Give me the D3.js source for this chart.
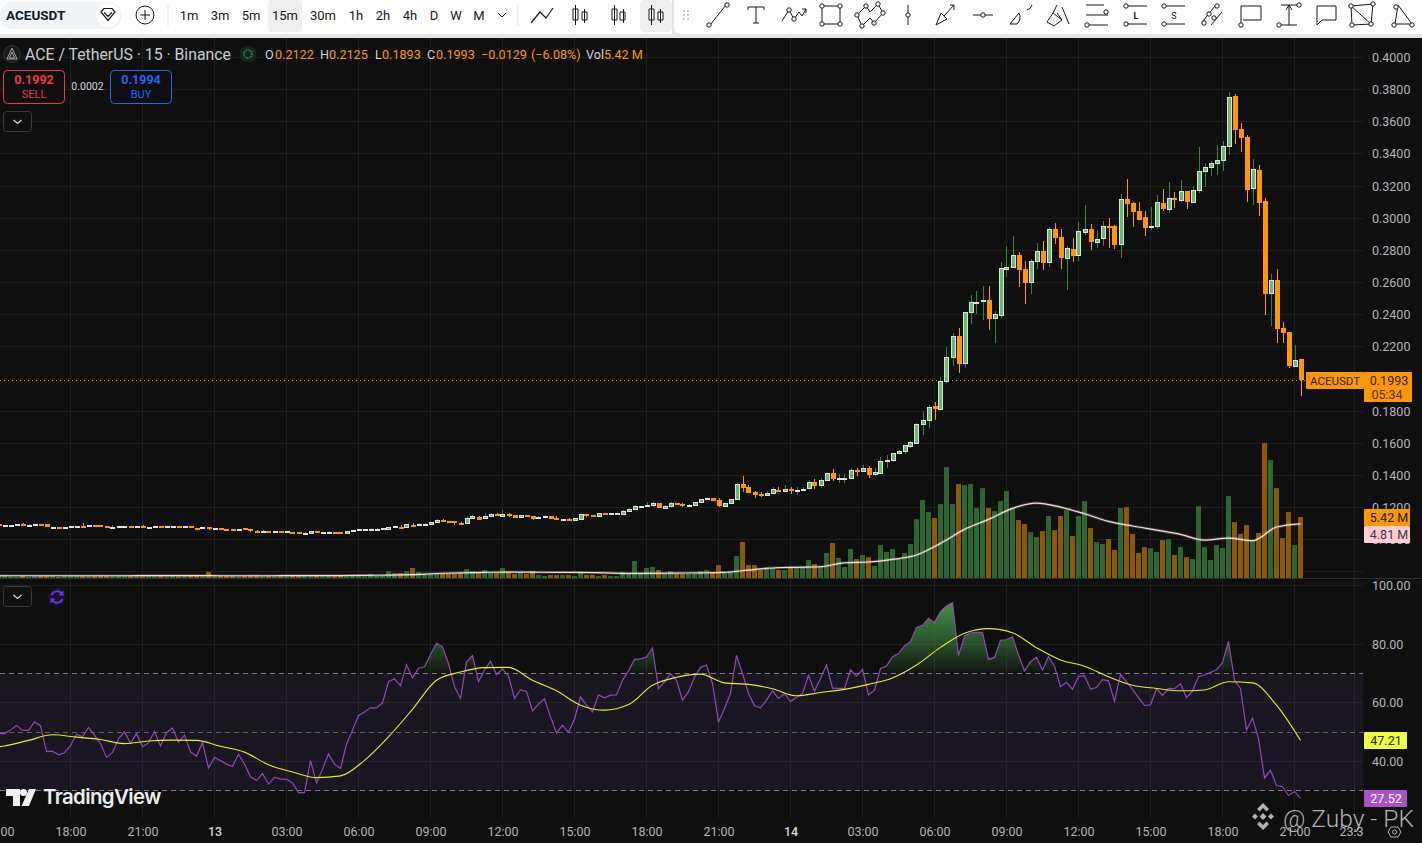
<!DOCTYPE html>
<html>
<head>
<meta charset="utf-8">
<title>ACEUSDT 15m</title>
<script src="https://cdn.jsdelivr.net/npm/d3@7/dist/d3.min.js"></script>
<style>
html, body { margin: 0; padding: 0; background: #0f0f0f; overflow: hidden; }
svg { display: block; font-family: Roboto, sans-serif; }
</style>
</head>
<body>
<div id="chart"></div>
<script>
// 15 minute candles, first one is 12th 15:00
var opens = [
    .1095,.1089,.1089,.1095,.1098,.1091,.1095,.1096,.1095,.1077,
    .1078,.1077,.1083,.1083,.1084,.1089,.1090,.1090,.1083,.1077,
    .1083,.1083,.1084,.1083,.1084,.1077,.1083,.1083,.1083,.1083,
    .1083,.1083,.1083,.1071,.1077,.1077,.1071,.1070,.1065,.1065,
    .1064,.1071,.1064,.1052,.1051,.1052,.1051,.1052,.1051,.1046,
    .1046,.1040,.1040,.1052,.1046,.1046,.1050,.1046,.1040,.1058,
    .1064,.1064,.1064,.1064,.1071,.1062,.1083,.1078,.1077,.1090,
    .1095,.1095,.1095,.1108,.1122,.1118,.1114,.1103,.1100,.1133,
    .1141,.1133,.1145,.1162,
    .1149,.1160,.1151,.1137,.1151,.1147,.1137,.1143,.1147,.1135,
    .1124,.1129,.1124,.1129,.1158,.1151,.1143,.1164,.1162,.1162,
    .1162,.1174,.1187,.1205,.1212,.1211,.1226,.1197,.1205,.1226,
    .1220,.1205,.1211,.1230,.1255,.1257,.1244,.1205,.1224,.1249,
    .1344,.1325,.1294,.1282,.1273,.1288,.1309,.1298,.1313,.1298,
    .1311,.1317,.1358,.1335,.1367,.1412,.1380,.1381,.1379,.1435,
    .1423,.1443,.1404,.1416,.1488,.1495,.1537,.1547,.1584,.1603,
    .1721,.1740,.1831,.1815,.1983,.2132,.2267,.2095,.2412,.2479,
    .2487,.2491,.2375,.2394,.2686,.2692,.2771,.2684,.2599,.2730,
    .2796,.2723,.2933,.2883,.2748,.2808,.2767,.2910,.2933,.2848,
    .2873,.2951,.2952,.2835,.3120,.3095,.3045,.3005,.2949,.2947,
    .3095,.3053,.3126,.3113,.3169,.3101,.3171,.3290,.3315,.3339,
    .3358,.3445,.3760,.3555,.3505,.3184,.3300,.3107,.2531,.2616,
    .2317,.2292,.2083,.2122
];
var highs = [
    .1096,.1090,.1092,.1097,.1100,.1094,.1097,.1096,.1095,.1080,
    .1078,.1080,.1086,.1084,.1102,.1091,.1090,.1091,.1083,.1088,
    .1086,.1085,.1084,.1087,.1088,.1079,.1085,.1087,.1085,.1087,
    .1087,.1085,.1083,.1071,.1079,.1077,.1073,.1070,.1065,.1065,
    .1068,.1071,.1064,.1058,.1057,.1052,.1053,.1052,.1053,.1046,
    .1046,.1046,.1053,.1052,.1048,.1052,.1050,.1046,.1053,.1060,
    .1066,.1066,.1069,.1069,.1073,.1078,.1085,.1088,.1096,.1104,
    .1100,.1100,.1112,.1126,.1126,.1118,.1114,.1110,.1145,.1150,
    .1148,.1168,.1166,.1166,
    .1184,.1168,.1155,.1152,.1152,.1147,.1148,.1152,.1148,.1147,
    .1130,.1134,.1136,.1159,.1159,.1152,.1165,.1165,.1165,.1167,
    .1184,.1194,.1212,.1211,.1234,.1233,.1227,.1212,.1234,.1227,
    .1226,.1219,.1236,.1252,.1258,.1258,.1258,.1227,.1252,.1354,
    .1396,.1340,.1302,.1294,.1300,.1325,.1325,.1338,.1325,.1325,
    .1325,.1371,.1375,.1381,.1414,.1439,.1408,.1408,.1443,.1443,
    .1464,.1458,.1443,.1516,.1526,.1540,.1555,.1590,.1615,.1725,
    .1800,.1838,.1854,.2012,.2197,.2284,.2315,.2419,.2522,.2547,
    .2578,.2578,.2421,.2726,.2827,.2889,.2790,.2734,.2746,.2846,
    .2858,.2945,.2970,.2933,.2827,.2877,.2976,.3082,.2964,.2927,
    .2983,.3001,.2958,.3151,.3244,.3101,.3101,.3045,.3070,.3144,
    .3182,.3225,.3163,.3238,.3171,.3200,.3443,.3344,.3356,.3456,
    .3480,.3785,.3773,.3592,.3518,.3368,.3331,.3126,.2653,.2684,
    .2354,.2292,.2211,.2125
];
var lows = [
    .1094,.1089,.1088,.1095,.1096,.1091,.1095,.1095,.1075,.1077,
    .1077,.1077,.1083,.1083,.1083,.1089,.1089,.1081,.1075,.1077,
    .1083,.1083,.1083,.1083,.1078,.1077,.1083,.1075,.1083,.1083,
    .1075,.1079,.1069,.1070,.1077,.1062,.1066,.1064,.1064,.1064,
    .1064,.1070,.1050,.1051,.1051,.1051,.1051,.1051,.1051,.1045,
    .1045,.1040,.1040,.1038,.1046,.1046,.1043,.1045,.1040,.1058,
    .1058,.1064,.1064,.1064,.1071,.1062,.1077,.1077,.1077,.1089,
    .1095,.1095,.1095,.1108,.1120,.1112,.1092,.1101,.1100,.1133,
    .1125,.1133,.1145,.1151,
    .1148,.1143,.1135,.1137,.1138,.1124,.1137,.1143,.1129,.1124,
    .1124,.1124,.1124,.1129,.1141,.1141,.1143,.1162,.1162,.1162,
    .1162,.1174,.1187,.1199,.1206,.1204,.1197,.1197,.1205,.1212,
    .1205,.1205,.1211,.1230,.1243,.1240,.1205,.1205,.1224,.1248,
    .1298,.1290,.1261,.1267,.1273,.1288,.1298,.1298,.1284,.1280,
    .1307,.1317,.1317,.1323,.1367,.1367,.1354,.1354,.1379,.1398,
    .1421,.1385,.1398,.1414,.1446,.1485,.1530,.1535,.1570,.1600,
    .1650,.1696,.1744,.1812,.1977,.2083,.2039,.2070,.2344,.2406,
    .2369,.2307,.2226,.2381,.2636,.2692,.2574,.2468,.2531,.2686,
    .2680,.2699,.2842,.2686,.2555,.2730,.2736,.2893,.2804,.2817,
    .2829,.2815,.2811,.2755,.3010,.2947,.2989,.2891,.2929,.2933,
    .3047,.3035,.3064,.3101,.3057,.3095,.3157,.3194,.3263,.3269,
    .3294,.3393,.3462,.3412,.3101,.3082,.3014,.2398,.2329,.2224,
    .2224,.2068,.2081,.1893
];
var closes = [
    .1094,.1090,.1090,.1096,.1096,.1092,.1096,.1095,.1075,.1078,
    .1077,.1078,.1084,.1084,.1083,.1090,.1089,.1085,.1075,.1078,
    .1084,.1084,.1083,.1084,.1083,.1078,.1084,.1075,.1084,.1084,
    .1075,.1084,.1069,.1070,.1078,.1062,.1072,.1069,.1064,.1064,
    .1065,.1070,.1050,.1051,.1052,.1051,.1052,.1051,.1052,.1045,
    .1045,.1041,.1052,.1038,.1047,.1047,.1049,.1045,.1052,.1059,
    .1065,.1065,.1065,.1065,.1072,.1077,.1084,.1077,.1095,.1089,
    .1096,.1096,.1108,.1120,.1120,.1116,.1113,.1101,.1133,.1145,
    .1125,.1145,.1158,.1151,
    .1160,.1153,.1135,.1151,.1147,.1129,.1143,.1147,.1129,.1124,
    .1129,.1124,.1135,.1158,.1147,.1147,.1164,.1162,.1164,.1164,
    .1178,.1189,.1207,.1207,.1214,.1226,.1197,.1207,.1226,.1224,
    .1205,.1213,.1232,.1251,.1257,.1240,.1205,.1226,.1251,.1344,
    .1321,.1290,.1273,.1278,.1288,.1313,.1298,.1313,.1298,.1307,
    .1313,.1356,.1333,.1369,.1412,.1377,.1381,.1383,.1431,.1420,
    .1443,.1402,.1418,.1489,.1495,.1537,.1551,.1587,.1609,.1719,
    .1744,.1823,.1815,.1987,.2134,.2265,.2095,.2414,.2477,.2481,
    .2489,.2375,.2402,.2688,.2699,.2769,.2678,.2597,.2732,.2794,
    .2721,.2931,.2877,.2752,.2813,.2765,.2918,.2931,.2852,.2869,
    .2950,.2949,.2833,.3117,.3088,.3039,.2989,.2939,.2951,.3099,
    .3057,.3124,.3115,.3167,.3101,.3174,.3292,.3317,.3342,.3360,
    .3447,.3752,.3549,.3499,.3176,.3304,.3095,.2528,.2613,.2311,
    .2286,.2081,.2118,.1993
];
// volume in millions
var volumes = [
    .27,.27,.12,.09,.18,.09,.18,.18,.18,.18,
    .09,.18,.18,.18,.18,.18,.18,.24,.18,.15,
    .18,.15,.18,.18,.15,.18,.15,.18,.15,.18,
    .15,.18,.18,.18,.15,.53,.15,.18,.18,.18,
    .15,.18,.27,.27,.18,.18,.15,.18,.15,.18,
    .24,.18,.15,.18,.15,.18,.15,.18,.15,.18,
    .18,.15,.36,.18,.18,.62,.44,.44,.62,.89,
    .53,.36,.36,.44,.44,.36,.36,.44,.80,.62,
    .44,.71,.44,.44,
    .89,.56,.36,.53,.36,.62,.27,.18,.27,.27,
    .27,.27,.18,.50,.27,.27,.18,.27,.18,.18,
    .53,.36,1.51,.36,.89,.98,.71,.41,.62,.36,
    .36,.36,.36,.62,.71,.53,1.15,.44,.62,1.95,
    3.20,1.15,1.15,.71,.98,.89,.71,.71,.98,.98,
    .98,1.60,1.24,1.07,2.22,3.11,1.78,.98,2.58,1.69,
    2.04,1.86,1.07,2.93,2.31,2.58,1.69,2.22,3.02,5.24,
    6.93,5.86,5.33,6.57,9.86,6.57,8.35,8.26,8.35,6.22,
    7.99,6.22,5.95,6.84,7.73,6.22,5.15,4.80,4.08,3.64,
    4.17,5.51,4.26,5.51,6.04,3.73,5.51,6.84,4.44,3.20,
    3.02,3.46,2.49,6.22,6.30,3.91,2.22,2.75,2.66,2.31,
    3.37,3.46,2.04,2.75,1.86,1.69,6.39,2.75,1.60,2.93,
    2.66,7.28,4.97,3.91,4.71,3.29,4.00,11.99,10.48,7.99,
    3.55,5.86,2.93,5.42
];
// volume average, read once an hour, the first reading lies just left of the pane
var volumeMa = [
    .20,.20,.20,.20,.20,.20,.20,.22,.22,.22,.20,.20,.20,.22,.22,.22,.24,
    .25,.30,.40,.46,.50,.53,.52,.50,.50,.46,.41,.42,.44,.46,.50,.70,
    .89,.95,1.00,1.35,1.42,1.66,2.04,3.08,4.32,5.21,6.19,6.66,6.30,
    5.71,5.03,4.62,4.26,3.88,3.37,3.55,3.32,4.53,4.81
];
var rsi = [
    49.5,49.5,50.7,52.3,50.6,50.6,53.5,52.2,43.4,43.5,
    42.3,43.0,45.4,49.3,48.4,51.6,49.0,46.1,41.4,43.1,
    47.7,50.1,46.2,49.5,45.0,46.4,50.2,45.3,49.8,51.4,
    46.5,49.0,43.3,41.8,46.4,37.8,41.4,40.3,39.1,38.3,
    42.5,39.1,34.8,33.5,35.9,32.3,34.6,34.0,34.0,32.7,
    29.4,29.4,40.3,32.8,37.4,42.6,39.1,37.6,45.9,50.7,
    55.6,56.9,58.3,58.3,60.0,67.2,68.2,65.8,73.0,68.5,
    71.8,72.3,76.5,80.3,79.1,73.4,65.5,61.5,73.9,76.1,
    67.2,71.2,74.2,69.7,71.6,69.1,61.5,64.4,63.9,57.2,
    59.6,61.4,55.2,49.7,52.4,49.9,54.4,62.0,59.2,56.9,
    62.7,61.7,62.6,62.7,67.7,70.9,74.8,75.0,75.6,78.7,
    64.8,67.1,70.0,67.7,60.9,63.8,68.7,72.1,72.9,66.6,
    53.5,58.1,63.2,76.2,70.0,63.2,59.0,58.3,60.9,64.1,
    61.5,63.1,60.5,61.8,63.2,69.4,64.0,68.3,72.9,65.0,
    64.9,64.9,71.2,69.1,71.4,62.7,64.3,71.7,72.5,75.7,
    76.8,79.4,80.8,85.7,86.4,88.8,87.3,91.1,93.0,94.1,
    76.1,82.8,83.8,84.0,84.0,74.8,75.4,81.3,81.5,82.5,
    76.3,70.9,74.0,75.5,71.2,75.8,72.5,65.5,67.0,64.6,
    69.0,69.2,64.7,65.2,67.9,67.5,60.5,69.6,67.2,64.6,
    61.8,59.1,59.3,64.8,62.5,64.9,64.8,66.5,61.8,64.1,
    68.9,69.5,70.4,71.3,73.7,81.0,67.7,64.9,50.7,54.8,
    47.8,34.4,37.0,31.8,31.4,28.4,29.8,27.5
];
// RSI average, read once an hour, the first reading lies just left of the pane
var rsiMa = [
    44.4,45.3,47.2,49.1,48.3,47.5,46.1,47.0,47.3,47.2,45.2,43.2,38.9,36.4,34.5,
    35.1,40.4,48.4,57.8,67.7,70.5,72.0,72.1,67.7,64.1,59.2,57.5,59.4,66.0,
    68.7,69.8,66.8,66.3,64.8,62.4,63.5,64.6,66.3,68.5,72.9,78.9,83.7,85.3,
    83.9,78.8,74.6,72.5,68.9,66.0,64.9,64.1,64.4,67.2,66.8,59.2,47.2
];

var priceTicks = [0.40, 0.38, 0.36, 0.34, 0.32, 0.30, 0.28, 0.26, 0.24, 0.22, 0.18, 0.16, 0.14, 0.12, 0.10];
var rsiTicks = [100, 80, 60, 40];
var rsiLevels = [70, 50, 30];
var timeLabels = ["15:00", "18:00", "21:00", "13", "03:00", "06:00", "09:00", "12:00", "15:00", "18:00",
    "21:00", "14", "03:00", "06:00", "09:00", "12:00", "15:00", "18:00", "21:00", "23:30"];
var timeTickBars = [0, 12, 24, 36, 48, 60, 72, 84, 96, 108, 120, 132, 144, 156, 168, 180, 192, 204, 216, 226];
var timeframes = ["1m", "3m", "5m", "15m", "30m", "1h", "2h", "4h", "D", "W", "M"];
var timeframeX = [189, 220, 251, 285, 323, 356, 383, 410, 434, 456, 479];
var legendParts = [
    ["O", 265, "#d1d4dc"], ["0.2122", 275, "#ff9800"], ["H", 320, "#d1d4dc"], ["0.2125", 329, "#ff9800"],
    ["L", 375, "#d1d4dc"], ["0.1893", 382, "#ff9800"], ["C", 427, "#d1d4dc"], ["0.1993", 436, "#ff9800"],
    ["\u22120.0129", 481, "#ff9800"], ["(\u22126.08%)", 531, "#ff9800"], ["Vol", 586, "#d1d4dc"], ["5.42 M", 604, "#ff9800"]
];

var width = 1422, height = 843;
var paneRight = 1363, paneTop = 38, paneSplit = 578, paneBottom = 818;
var barMs = 15 * 60 * 1000;
var startTime = Date.UTC(2024, 2, 12, 15);

function timeOf(i) { return new Date(startTime + i * barMs); }

var x = d3.scaleUtc().domain([timeOf(0), timeOf(217)]).range([-1.5, 1300.5]);
var priceY = d3.scaleLinear().domain([0.40, 0.18]).range([57.5, 411]);
var volumeY = d3.scaleLinear().domain([0, 12]).range([578, 443]);
var rsiY = d3.scaleLinear().domain([100, 40]).range([585.5, 761.5]);

var svg = d3.select("#chart").append("svg")
    .attr("width", width)
    .attr("height", height);
var defs = svg.append("defs");

defs.append("clipPath").attr("id", "main-clip").append("rect")
    .attr("x", 0).attr("y", paneTop).attr("width", paneRight).attr("height", paneSplit - paneTop);
defs.append("clipPath").attr("id", "rsi-clip").append("rect")
    .attr("x", 0).attr("y", paneSplit).attr("width", paneRight).attr("height", paneBottom - paneSplit);
defs.append("clipPath").attr("id", "above-clip").append("rect")
    .attr("x", 0).attr("y", paneSplit).attr("width", paneRight).attr("height", rsiY(70) - paneSplit);
defs.append("clipPath").attr("id", "time-clip").append("rect")
    .attr("x", 0).attr("y", paneBottom).attr("width", paneRight).attr("height", height - paneBottom);

var gradient = defs.append("linearGradient").attr("id", "overbought")
    .attr("gradientUnits", "userSpaceOnUse")
    .attr("x1", 0).attr("x2", 0).attr("y1", rsiY(95)).attr("y2", rsiY(70));
gradient.append("stop").attr("offset", 0).attr("stop-color", "#4caf50").attr("stop-opacity", 0.85);
gradient.append("stop").attr("offset", 0.6).attr("stop-color", "#4caf50").attr("stop-opacity", 0.4);
gradient.append("stop").attr("offset", 1).attr("stop-color", "#4caf50").attr("stop-opacity", 0.02);

svg.append("rect").attr("width", width).attr("height", height).attr("fill", "#0f0f0f");

// grid
var gridColor = "#1f1f1f";
var grid = svg.append("g").attr("stroke", gridColor).attr("shape-rendering", "crispEdges");
grid.selectAll(".h").data(priceTicks.concat([0.08])).enter().append("line")
    .attr("x1", 0).attr("x2", paneRight)
    .attr("y1", function (d) { return Math.floor(priceY(d)) + 0.5; })
    .attr("y2", function (d) { return Math.floor(priceY(d)) + 0.5; });
grid.selectAll(".r").data(rsiTicks).enter().append("line")
    .attr("x1", 0).attr("x2", paneRight)
    .attr("y1", function (d) { return Math.floor(rsiY(d)) + 0.5; })
    .attr("y2", function (d) { return Math.floor(rsiY(d)) + 0.5; });
grid.selectAll(".v").data(timeTickBars).enter().append("line")
    .attr("x1", function (d) { return Math.floor(x(timeOf(d))) + 0.5; })
    .attr("x2", function (d) { return Math.floor(x(timeOf(d))) + 0.5; })
    .attr("y1", paneTop).attr("y2", paneBottom);

svg.append("line").attr("x1", 0).attr("x2", width)
    .attr("y1", paneSplit + 0.5).attr("y2", paneSplit + 0.5)
    .attr("stroke", "#2e2e2e").attr("shape-rendering", "crispEdges");

var bars = d3.range(closes.length);

// volume
var main = svg.append("g").attr("clip-path", "url(#main-clip)");
main.selectAll(".vol").data(bars).enter().append("rect")
    .attr("x", function (i) { return x(timeOf(i)) - 2.5; })
    .attr("width", 5)
    .attr("y", function (i) { return volumeY(volumes[i]); })
    .attr("height", function (i) { return volumeY(0) - volumeY(volumes[i]); })
    .attr("fill", function (i) { return closes[i] >= opens[i] ? "#2e6531" : "#8a5809"; });

var volumeLine = d3.line()
    .x(function (d, k) { return x(timeOf(-3 + k * 4)); })
    .y(function (d) { return volumeY(d); })
    .curve(d3.curveMonotoneX);
main.append("path").attr("d", volumeLine(volumeMa))
    .attr("fill", "none").attr("stroke", "#ffffff").attr("stroke-opacity", 0.18).attr("stroke-width", 3);
main.append("path").attr("d", volumeLine(volumeMa))
    .attr("fill", "none").attr("stroke", "#f7d9d9").attr("stroke-width", 1.2);

// last price line
main.append("line")
    .attr("x1", 0).attr("x2", 1306)
    .attr("y1", Math.round(priceY(closes[217])) + 0.5).attr("y2", Math.round(priceY(closes[217])) + 0.5)
    .attr("stroke", "#ff9800").attr("stroke-dasharray", "1 3").attr("shape-rendering", "crispEdges");

// candles
var candle = main.selectAll(".candle").data(bars).enter().append("g");
candle.append("line")
    .attr("x1", function (i) { return Math.round(x(timeOf(i))) + 0.5; })
    .attr("x2", function (i) { return Math.round(x(timeOf(i))) + 0.5; })
    .attr("y1", function (i) { return priceY(highs[i]); })
    .attr("y2", function (i) { return priceY(lows[i]); })
    .attr("stroke", function (i) { return closes[i] >= opens[i] ? "#2e8b34" : "#ff9800"; })
    .attr("shape-rendering", "crispEdges");
candle.append("rect")
    .attr("x", function (i) { return Math.round(x(timeOf(i))) - 2 + (closes[i] >= opens[i] ? 0.5 : 0); })
    .attr("width", function (i) { return closes[i] >= opens[i] ? 4 : 5; })
    .attr("y", function (i) { return Math.round(priceY(Math.max(opens[i], closes[i]))) + (closes[i] >= opens[i] ? 0.5 : 0); })
    .attr("height", function (i) {
        var h = priceY(Math.min(opens[i], closes[i])) - priceY(Math.max(opens[i], closes[i]));
        return closes[i] >= opens[i] ? Math.max(Math.round(h), 1) : Math.max(Math.round(h), 2);
    })
    .attr("fill", function (i) { return closes[i] >= opens[i] ? "#66bb6a" : "#ff9800"; })
    .attr("stroke", function (i) { return closes[i] >= opens[i] ? "#e0e0e0" : "none"; })
    .attr("shape-rendering", "crispEdges");

// RSI pane
var rsiPane = svg.append("g").attr("clip-path", "url(#rsi-clip)");
rsiPane.append("rect")
    .attr("x", 0).attr("width", paneRight)
    .attr("y", rsiY(70)).attr("height", rsiY(30) - rsiY(70))
    .attr("fill", "#7e57c2").attr("fill-opacity", 0.1);
rsiPane.selectAll(".level").data(rsiLevels).enter().append("line")
    .attr("x1", 0).attr("x2", paneRight)
    .attr("y1", function (d) { return Math.floor(rsiY(d)) + 0.5; })
    .attr("y2", function (d) { return Math.floor(rsiY(d)) + 0.5; })
    .attr("stroke", function (d) { return d === 50 ? "#5f5f68" : "#7f7f88"; })
    .attr("stroke-dasharray", "5 4")
    .attr("shape-rendering", "crispEdges");

var rsiArea = d3.area()
    .x(function (d, i) { return x(timeOf(i)); })
    .y0(rsiY(70))
    .y1(function (d) { return rsiY(d); });
rsiPane.append("path").attr("d", rsiArea(rsi))
    .attr("fill", "url(#overbought)").attr("clip-path", "url(#above-clip)");

var rsiLine = d3.line()
    .x(function (d, i) { return x(timeOf(i)); })
    .y(function (d) { return rsiY(d); });
rsiPane.append("path").attr("d", rsiLine(rsi))
    .attr("fill", "none").attr("stroke", "#9149b5").attr("stroke-width", 1.2);

var rsiMaLine = d3.line()
    .x(function (d, k) { return x(timeOf(-3 + k * 4)); })
    .y(function (d) { return rsiY(d); })
    .curve(d3.curveMonotoneX);
rsiPane.append("path").attr("d", rsiMaLine(rsiMa))
    .attr("fill", "none").attr("stroke", "#e2ef1c").attr("stroke-width", 1.1);

// axes
function styleAxis(g) {
    g.select(".domain").remove();
    g.selectAll("text").attr("fill", "#b2b5be").attr("font-size", 12.5).attr("font-family", "Roboto, sans-serif");
}
svg.append("g").attr("transform", "translate(1372,0)")
    .call(d3.axisRight(priceY).tickValues(priceTicks).tickFormat(d3.format(".4f")).tickSize(0).tickPadding(0))
    .call(styleAxis);
svg.append("g").attr("transform", "translate(1372,0)")
    .call(d3.axisRight(rsiY).tickValues(rsiTicks).tickFormat(d3.format(".2f")).tickSize(0).tickPadding(0))
    .call(styleAxis);
var timeAxis = svg.append("g").attr("clip-path", "url(#time-clip)")
    .append("g").attr("transform", "translate(0,827)");
timeAxis.call(d3.axisBottom(x)
        .tickValues(timeTickBars.map(timeOf))
        .tickFormat(function (d, i) { return timeLabels[i]; })
        .tickSize(0).tickPadding(0))
    .call(styleAxis);
timeAxis.selectAll("text")
    .attr("font-weight", function (d, i) { return timeLabels[i].length < 3 ? 500 : 400; })
    .attr("fill", function (d, i) { return timeLabels[i].length < 3 ? "#d1d4dc" : "#b2b5be"; });

// value tags on the right
function tag(xPos, y, w, h, fill, label, color, anchorX, size) {
    svg.append("rect").attr("x", xPos).attr("y", y).attr("width", w).attr("height", h).attr("fill", fill).attr("rx", 1);
    svg.append("text").attr("x", anchorX).attr("y", y + h / 2 + 4.5)
        .attr("text-anchor", "middle").attr("font-size", size || 12.5).attr("fill", color).text(label);
}
tag(1306, 372, 58, 17, "#ff9800", "ACEUSDT", "#2a1c00", 1335, 11.5);
svg.append("rect").attr("x", 1364).attr("y", 372).attr("width", 48).attr("height", 30).attr("fill", "#ff9800");
svg.append("text").attr("x", 1389).attr("y", 385).attr("text-anchor", "middle").attr("font-size", 12.5).attr("fill", "#2a1c00").text("0.1993");
svg.append("text").attr("x", 1387).attr("y", 399).attr("text-anchor", "middle").attr("font-size", 12.5).attr("fill", "#4a3000").text("05:34");
tag(1364, 509, 46, 17, "#ff9800", "5.42 M", "#1c1300", 1389);
tag(1364, 526, 46, 17, "#ffcdd2", "4.81 M", "#3a3a3a", 1389);
tag(1364, 732, 43, 17, "#eeff41", "47.21", "#2a2a2a", 1386);
tag(1364, 790, 43, 17, "#a653c6", "27.52", "#ffffff", 1386);

// legend row
svg.append("circle").attr("cx", 12).attr("cy", 54).attr("r", 8.5).attr("fill", "#1b1b1b").attr("stroke", "#333");
svg.append("path").attr("d", "M12 48 L17 59 L7 59 Z M12 52 L14.5 58 L9.5 58 Z")
    .attr("fill", "none").attr("stroke", "#b8b8b8").attr("stroke-width", 0.9);
svg.append("text").attr("x", 25).attr("y", 60).attr("font-size", 15.8).attr("fill", "#c8cbd2")
    .text("ACE / TetherUS \u00b7 15 \u00b7 Binance");
svg.append("circle").attr("cx", 248).attr("cy", 54).attr("r", 8.5).attr("fill", "#14261c");
svg.append("circle").attr("cx", 248).attr("cy", 54).attr("r", 4).attr("fill", "none")
    .attr("stroke", "#2f8f6b").attr("stroke-width", 2).attr("stroke-dasharray", "1 1");
svg.selectAll(".legend").data(legendParts).enter().append("text")
    .attr("x", function (d) { return d[1]; })
    .attr("y", 59)
    .attr("font-size", 12.6)
    .attr("fill", function (d) { return d[2]; })
    .text(function (d) { return d[0]; });

// sell and buy buttons
function tradeBox(bx, color, price, label) {
    svg.append("rect").attr("x", bx + 0.5).attr("y", 70.5).attr("width", 61).attr("height", 33).attr("rx", 4)
        .attr("fill", "#0f0f0f").attr("stroke", color);
    svg.append("text").attr("x", bx + 31).attr("y", 84).attr("text-anchor", "middle")
        .attr("font-size", 12.5).attr("font-weight", 700).attr("fill", color).text(price);
    svg.append("text").attr("x", bx + 31).attr("y", 98).attr("text-anchor", "middle")
        .attr("font-size", 11).attr("fill", color).text(label);
}
tradeBox(3, "#f23645", "0.1992", "SELL");
tradeBox(110, "#2962ff", "0.1994", "BUY");
svg.append("text").attr("x", 87.5).attr("y", 90).attr("text-anchor", "middle")
    .attr("font-size", 10.5).attr("fill", "#d1d4dc").text("0.0002");

function chevronBox(by) {
    svg.append("rect").attr("x", 3.5).attr("y", by + 0.5).attr("width", 28).attr("height", 20).attr("rx", 3)
        .attr("fill", "#0f0f0f").attr("stroke", "#3a3a3a");
    svg.append("path").attr("d", "M13.5 " + (by + 9) + " L17.5 " + (by + 12.5) + " L21.5 " + (by + 9))
        .attr("fill", "none").attr("stroke", "#d1d4dc").attr("stroke-width", 1.3);
}
chevronBox(111);
chevronBox(586);

// refresh icon of the RSI pane
svg.append("circle").attr("cx", 57).attr("cy", 597).attr("r", 9).attr("fill", "#17142a");
svg.append("path").attr("d", "M51.5 595 A6 6 0 0 1 62 594 M62.5 599 A6 6 0 0 1 52 600")
    .attr("fill", "none").attr("stroke", "#6a35e0").attr("stroke-width", 2);
svg.append("path").attr("d", "M63.5 590.5 L63.5 596 L58.5 595 Z M50.5 603.5 L50.5 598 L55.5 599 Z").attr("fill", "#6a35e0");

// TradingView mark
svg.append("path").attr("d", "M6 789 H20 V806 H13 V796 H6 Z").attr("fill", "#f0f0f0");
svg.append("circle").attr("cx", 23.5).attr("cy", 792.5).attr("r", 3.5).attr("fill", "#f0f0f0");
svg.append("path").attr("d", "M29 789 H36 L29 806 H21.5 Z").attr("fill", "#f0f0f0");
svg.append("text").attr("x", 43).attr("y", 804).attr("font-size", 20.4).attr("font-weight", 600)
    .attr("font-family", "Inter, Roboto, sans-serif").attr("letter-spacing", -0.6).attr("fill", "#ececec").text("TradingView");

// watermark
var mark = svg.append("g").attr("fill", "#cfcfcf").attr("fill-opacity", 0.85);
mark.append("path").attr("d", "M1263 803 l6 6 l-2.5 2.5 l-3.5 -3.5 l-3.5 3.5 l-2.5 -2.5 Z M1263 830 l6 -6 l-2.5 -2.5 l-3.5 3.5 l-3.5 -3.5 l-2.5 2.5 Z M1255 813.5 l3 3 l-3 3 l-3 -3 Z M1271 813.5 l3 3 l-3 3 l-3 -3 Z M1263 813 l3.5 3.5 l-3.5 3.5 l-3.5 -3.5 Z");
mark.append("text").attr("x", 1283).attr("y", 827).attr("font-size", 24.5).attr("font-weight", 300)
    .attr("font-family", "Roboto, sans-serif").text("@ Zuby - PK");

// settings hexagon
svg.append("path").attr("d", "M1388 832 L1391 827 L1398 827 L1401 832 L1398 837 L1391 837 Z")
    .attr("fill", "none").attr("stroke", "#b2b5be");
svg.append("circle").attr("cx", 1394.5).attr("cy", 832).attr("r", 2).attr("fill", "none").attr("stroke", "#b2b5be");

// toolbar
var bar = svg.append("g");
bar.append("rect").attr("width", width).attr("height", 38).attr("fill", "#e3e4e8");
bar.append("rect").attr("width", 672).attr("height", 34).attr("fill", "#ffffff");
bar.append("rect").attr("x", 674).attr("y", -6).attr("width", 760).attr("height", 40).attr("rx", 6).attr("fill", "#ffffff");
bar.append("rect").attr("x", 0).attr("y", 2).attr("width", 122).attr("height", 27).attr("rx", 13).attr("fill", "#f0f3fa");
bar.append("text").attr("x", 6).attr("y", 20).attr("font-size", 13.5).attr("font-weight", 700).attr("fill", "#131722").text("ACEUSDT");
bar.append("circle").attr("cx", 108).attr("cy", 15).attr("r", 12).attr("fill", "#ffffff");
bar.append("path").attr("d", "M101 12 L104 8.5 H112 L115 12 L108 20.5 Z M104 12.5 L108 16.5 L112 12.5")
    .attr("fill", "none").attr("stroke", "#131722").attr("stroke-width", 1.2);
bar.append("circle").attr("cx", 145).attr("cy", 15).attr("r", 9).attr("fill", "none").attr("stroke", "#131722");
bar.append("path").attr("d", "M145 10 V20 M140 15 H150").attr("stroke", "#131722");
bar.append("rect").attr("x", 268).attr("y", 0).attr("width", 34).attr("height", 32).attr("rx", 4).attr("fill", "#eeeeee");
bar.append("rect").attr("x", 640).attr("y", 0).attr("width", 32).attr("height", 32).attr("rx", 4).attr("fill", "#eeeeee");
bar.selectAll(".divider").data([168, 518]).enter().append("line")
    .attr("x1", function (d) { return d; }).attr("x2", function (d) { return d; })
    .attr("y1", 5).attr("y2", 26).attr("stroke", "#e0e3eb");
bar.selectAll(".tf").data(timeframes).enter().append("text")
    .attr("x", function (d, i) { return timeframeX[i]; })
    .attr("y", 20)
    .attr("text-anchor", "middle")
    .attr("font-size", 13)
    .attr("fill", "#131722")
    .text(function (d) { return d; });
bar.append("path").attr("d", "M498 13 L502 17 L506 13").attr("fill", "none").attr("stroke", "#131722");
bar.append("path").attr("d", "M531 23 L540 12 L546 18 L553 8").attr("fill", "none").attr("stroke", "#131722").attr("stroke-width", 1.2);

function candleIcon(cx, a, b) {
    bar.append("path").attr("d", "M" + (cx - 4.5) + " 5 V25 M" + (cx + 4.5) + " 9 V23 M" + (cx - 7) + " 9 h5 v11 h-5 Z M" + (cx + a) + " 12 h5 v" + b + " h-5 Z")
        .attr("fill", "#ffffff").attr("stroke", "#131722");
}
candleIcon(580, 2, 8);
candleIcon(619, 1, 8);
candleIcon(656, 2, 8);
bar.selectAll(".grip").data([11, 15, 19]).enter().append("path")
    .attr("d", function (d) { return "M683 " + d + " h2 M687 " + d + " h2"; })
    .attr("stroke", "#c8c8c8").attr("stroke-width", 2);

// drawing tools, each one a short path plus its anchor dots
var tools = [
    [718, "M-8 10 L8 -10", [[-9, 10], [9, -10]]],
    [756, "M-8 -8 H8 M-8 -8 V-5 M8 -8 V-5 M0 -8 V8 M-3 8 H3", []],
    [794, "M-12 6 L-5 -5 L0 4 L5 -3 L8 1 L12 -6 M12 -6 H8 M12 -6 V-2", [[-5, -5], [0, 4]]],
    [831, "M-9 -9 H9 V9 H-9 Z", [[-9, -9], [9, -9], [9, 9], [-9, 9]]],
    [870, "M-13 0 L-4 -9 L0 -3 L8 -11 L13 -2 L4 8 L0 3 L-8 11 Z", [[-13, 0], [-4, -9], [8, -11], [13, -2], [4, 8], [-8, 11]]],
    [908, "M0 -10 V10", [[0, 0]]],
    [945, "M-9 10 L-4 -2 L-1 1 L9 -10 M-9 10 L2 4 L-1 1 M9 -10 L5 -10 M9 -10 L9 -5", []],
    [983, "M-10 0 H10", [[0, 0]]],
    [1022, "M-12 9 H-5 A9 9 0 0 0 -3 -2 L-12 9 M5 -5 A7 7 0 0 0 10 -10", []],
    [1059, "M-2 -10 L-6 -2 L-12 7 L-5 11 L3 5 L-2 -2 M3 -8 L10 9 M-6 -2 L3 5", []],
    [1098, "M-12 -10 H6 M-12 0 H10 M-12 10 H10", [[8, -3], [-11, 10]]],
    [1136, "M-8 -9 H11 M-8 9 H11", [[-10, -9], [-10, 9]]],
    [1174, "M-8 -9 H11 M-8 9 H11", [[-10, -9], [-10, 9]]],
    [1213, "M-10 6 L2 -9 M-2 10 L9 -3", [[-4, -1], [4, -9], [-9, 8], [1, 3]]],
    [1251, "M-10 10 V-9 H10 V5 H-8", [[-10, 10]]],
    [1289, "M-8 -10 H8 M-8 10 H8 M0 -10 V10 M0 -10 L-3 -5 M0 -10 L3 -5", [[10, -10], [-10, 10]]],
    [1327, "M-10 10 V-9 H9 V5 H-5 Z", []],
    [1362, "M-11 -9 L11 -11 L9 9 L-10 10 Z M-11 -9 L9 9", [[-11, -9], [11, -11], [9, 9], [-10, 10]]],
    [1403, "M-5 -10 L9 9 H-8 Z", [[-7, -8], [-9, 10], [9, 10]]]
];
tools.forEach(function (t) {
    var g = bar.append("g").attr("transform", "translate(" + t[0] + ",15)");
    g.append("path").attr("d", t[1]).attr("fill", "none").attr("stroke", "#131722");
    g.selectAll("circle").data(t[2]).enter().append("circle")
        .attr("cx", function (d) { return d[0]; })
        .attr("cy", function (d) { return d[1]; })
        .attr("r", 2.2)
        .attr("fill", "#ffffff")
        .attr("stroke", "#131722");
});
bar.append("text").attr("x", 1136).attr("y", 19).attr("text-anchor", "middle").attr("font-size", 9).attr("font-weight", 700).attr("fill", "#131722").text("L");
bar.append("text").attr("x", 1174).attr("y", 19).attr("text-anchor", "middle").attr("font-size", 9).attr("fill", "#131722").text("S");
</script>
</body>
</html>
